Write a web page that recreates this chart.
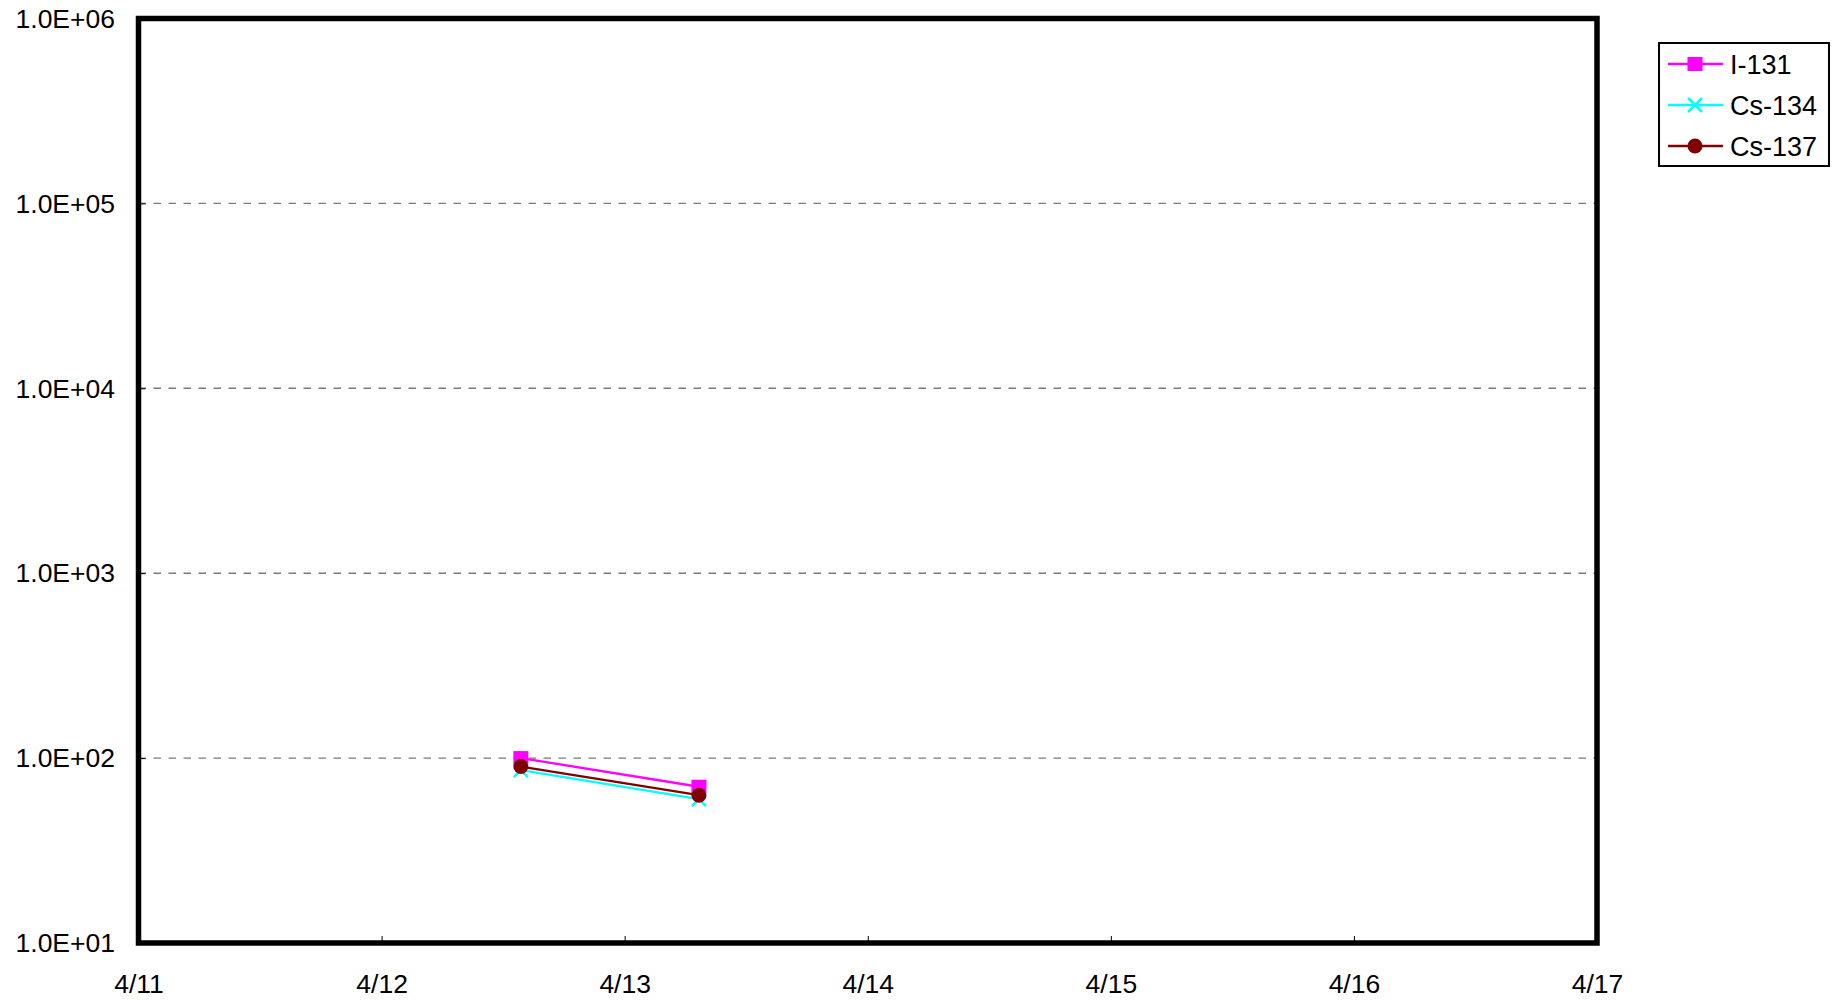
<!DOCTYPE html>
<html>
<head>
<meta charset="utf-8">
<script src="https://cdn.jsdelivr.net/npm/d3@7"></script>
<style>
  body { margin: 0; background: #fff; }
  text { font-family: "Liberation Sans", Arial, sans-serif; fill: #000; }
</style>
</head>
<body>
<div id="chart"></div>
<script>
const width = 1838,
  height = 1001;
const margin = { top: 18.5, right: 241, bottom: 58, left: 138.5 };

// data
const series = ["I-131", "Cs-134", "Cs-137"];
const dates = [new Date(2011, 3, 12, 13, 45), new Date(2011, 3, 13, 7, 20)];
const i131 = [100, 70];
const cs134 = [86, 60];
const cs137 = [90, 63];
const xTicks = [11, 12, 13, 14, 15, 16, 17].map((d) => new Date(2011, 3, d));
const yTicks = [1e1, 1e2, 1e3, 1e4, 1e5, 1e6];

const colors = { "I-131": "#ff00ff", "Cs-134": "#00ffff", "Cs-137": "#800000" };
const values = { "I-131": i131, "Cs-134": cs134, "Cs-137": cs137 };

const svg = d3
  .select("#chart")
  .append("svg")
  .attr("width", width)
  .attr("height", height);

const x = d3
  .scaleTime()
  .domain([xTicks[0], xTicks[xTicks.length - 1]])
  .range([margin.left, width - margin.right]);

const y = d3
  .scaleLog()
  .domain([1e1, 1e6])
  .range([height - margin.bottom, margin.top]);

// grid lines
svg
  .append("g")
  .selectAll("line")
  .data(yTicks.slice(1, -1))
  .join("line")
  .attr("x1", x.range()[0])
  .attr("x2", x.range()[1])
  .attr("y1", (d) => y(d))
  .attr("y2", (d) => y(d))
  .attr("stroke", "#7a7a7a")
  .attr("stroke-width", 1.4)
  .attr("stroke-dasharray", "7.5,7.5");

// y axis: inward ticks
const yAxis = d3
  .axisLeft(y)
  .tickValues(yTicks)
  .tickFormat((d) => "1.0E+" + String(Math.round(Math.log10(d))).padStart(2, "0"))
  .tickSize(-7)
  .tickPadding(23.5);

const gy = svg
  .append("g")
  .attr("transform", `translate(${margin.left},0)`)
  .call(yAxis);
gy.select(".domain").remove();
gy.selectAll("line").attr("stroke", "#000").attr("stroke-width", 1);
gy.selectAll("text").style("font-size", "26.5px").attr("dy", "0.33em");

// x axis: inward ticks
const xAxis = d3
  .axisBottom(x)
  .tickValues(xTicks)
  .tickFormat(d3.timeFormat("%-m/%-d"))
  .tickSize(-7)
  .tickPadding(50);

const gx = svg
  .append("g")
  .attr("transform", `translate(0,${height - margin.bottom})`)
  .call(xAxis);
gx.select(".domain").remove();
gx.selectAll("line").attr("stroke", "#000").attr("stroke-width", 1);
gx.selectAll("text").style("font-size", "26.5px").attr("dy", "0");

// frame
svg
  .append("rect")
  .attr("x", x.range()[0])
  .attr("y", y.range()[1])
  .attr("width", x.range()[1] - x.range()[0])
  .attr("height", y.range()[0] - y.range()[1])
  .attr("fill", "none")
  .attr("stroke", "#000")
  .attr("stroke-width", 5.5);

function drawMarker(g, name, cx, cy) {
  if (name === "I-131") {
    g.append("rect")
      .attr("x", cx - 7.5)
      .attr("y", cy - 7)
      .attr("width", 15)
      .attr("height", 14)
      .attr("fill", colors[name]);
  } else if (name === "Cs-134") {
    g.append("path")
      .attr("d", `M${cx - 7},${cy - 7}L${cx + 7},${cy + 7}M${cx - 7},${cy + 7}L${cx + 7},${cy - 7}`)
      .attr("stroke", colors[name])
      .attr("stroke-width", 2.5);
  } else {
    g.append("circle")
      .attr("cx", cx)
      .attr("cy", cy)
      .attr("r", 7.5)
      .attr("fill", colors[name]);
  }
}

const line = d3
  .line()
  .x((d) => x(d[0]))
  .y((d) => y(d[1]));

series.forEach((name) => {
  const pts = dates.map((d, i) => [d, values[name][i]]);
  const g = svg.append("g");
  g.append("path")
    .attr("d", line(pts))
    .attr("fill", "none")
    .attr("stroke", colors[name])
    .attr("stroke-width", 2.3);
  pts.forEach((p) => drawMarker(g, name, x(p[0]), y(p[1])));
});

// legend
const legend = svg.append("g").attr("transform", "translate(1659,43)");
legend
  .append("rect")
  .attr("width", 170)
  .attr("height", 123)
  .attr("fill", "#fff")
  .attr("stroke", "#000")
  .attr("stroke-width", 2);

series.forEach((name, i) => {
  const ly = 21 + i * 41;
  const g = legend.append("g");
  g.append("line")
    .attr("x1", 9)
    .attr("x2", 64)
    .attr("y1", ly)
    .attr("y2", ly)
    .attr("stroke", colors[name])
    .attr("stroke-width", 2.3);
  drawMarker(g, name, 36, ly);
  g.append("text")
    .attr("x", 71)
    .attr("y", ly)
    .attr("dy", "0.36em")
    .style("font-size", "27px")
    .text(name);
});
</script>
</body>
</html>
